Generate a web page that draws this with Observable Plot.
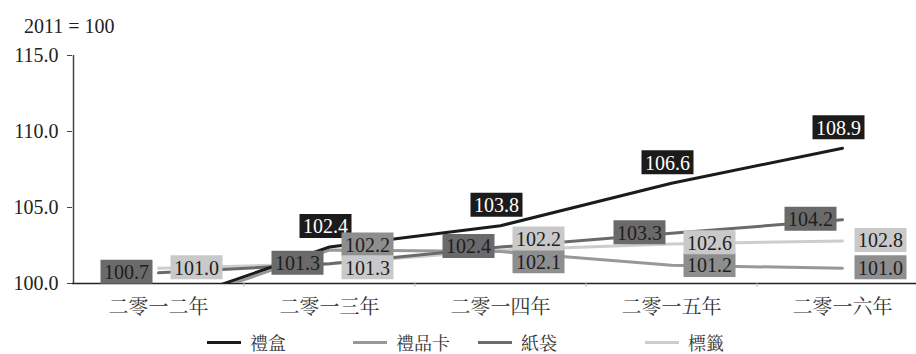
<!DOCTYPE html>
<html><head><meta charset="utf-8">
<script src="https://cdn.jsdelivr.net/npm/d3@7"></script>
<script src="https://cdn.jsdelivr.net/npm/@observablehq/plot@0.6"></script>
<style>
body{margin:0;background:#fff;width:916px;height:354px;overflow:hidden;}
#title{height:38px;box-sizing:border-box;padding-top:15px;padding-left:24px;font-family:'Liberation Serif',serif;font-size:20px;line-height:22px;color:#222;}
#chart svg{display:block;}
#legend{position:relative;height:24px;font-family:'Noto Serif CJK TC',serif;font-size:18px;color:#333;}
#legend .item{position:absolute;top:0;height:24px;display:flex;align-items:center;white-space:nowrap;}
#legend .item:nth-child(1){left:207px;}
#legend .item:nth-child(2){left:353px;}
#legend .item:nth-child(3){left:478px;}
#legend .item:nth-child(4){left:645px;}
#legend .sw{display:inline-block;width:34px;height:3px;margin-right:9px;}
</style></head><body>
<div id="title">2011 = 100</div>
<div id="chart"></div>
<div id="legend"></div>
<script>
const years = ["二零一二年","二零一三年","二零一四年","二零一五年","二零一六年"];
const seriesNames = ["禮盒","禮品卡","紙袋","標籤"];
const giftBox = [98.5, 102.4, 103.8, 106.6, 108.9];
const giftCard = [98.3, 102.2, 102.1, 101.2, 101.0];
const paperBag = [100.7, 101.3, 102.4, 103.3, 104.2];
const tagValues = [101.0, 101.3, 102.2, 102.6, 102.8];
const yTicks = [100, 105, 110, 115];

const valuesBySeries = {"禮盒": giftBox, "禮品卡": giftCard, "紙袋": paperBag, "標籤": tagValues};
const lineColor = {"禮盒": "#1b1b1b", "禮品卡": "#989898", "紙袋": "#6a6a6a", "標籤": "#cdcdcd"};
const boxColor = {"禮盒": "#1b1b1b", "禮品卡": "#8e8e8e", "紙袋": "#6a6a6a", "標籤": "#c9c9c9"};
const textColor = {"禮盒": "#ffffff", "禮品卡": "#1e1e1e", "紙袋": "#1e1e1e", "標籤": "#1e1e1e"};
const labelOffset = {"禮盒": {dx: -4, dy: -21}, "紙袋": {dx: -32, dy: -1}, "禮品卡": {dx: 38, dy: -1}, "標籤": {dx: 38, dy: -1}};

const rows = seriesNames.flatMap(s => years.map((yr, i) => ({series: s, year: yr, value: valuesBySeries[s][i]})));

// labels: only values inside the axis range; dodge the two right-hand series apart
const gap = 1.5;
const labelRows = rows.filter(d => d.value >= 100).map(d => ({...d, ly: d.value}));
years.forEach(yr => {
  const a = labelRows.find(d => d.year === yr && d.series === "禮品卡");
  const b = labelRows.find(d => d.year === yr && d.series === "標籤");
  if (a && b && Math.abs(a.value - b.value) < gap) {
    const mid = (a.value + b.value) / 2;
    const [hi, lo] = a.value > b.value ? [a, b] : [b, a];
    hi.ly = mid + gap / 2; lo.ly = mid - gap / 2;
  }
});

const box = {draw(ctx) { ctx.rect(-26, -12, 52, 24); }};
const serif = "'Liberation Serif', serif";
const cjkSerif = "'Noto Serif CJK TC', serif";

const marks = [
  Plot.ruleY([100], {stroke: "#222", strokeWidth: 1.5}),
  Plot.ruleX([years[0]], {x: d => d, y1: 100, y2: 115, dx: -85, stroke: "#444", strokeWidth: 1.5}),
  Plot.ruleX(years.slice(1), {x: d => d, y1: 100, y2: 99.75, dx: -85.6, stroke: "#bbb"}),
  Plot.axisY({ticks: yTicks, tickFormat: d => d.toFixed(1), tickSize: 5, tickPadding: 9, stroke: "#444", fill: "#222", fontSize: 20, fontFamily: serif, label: null}),
  Plot.axisX({tickSize: 0, tickPadding: 16, fill: "#333", fontSize: 20, fontFamily: cjkSerif, label: null})
];
for (const s of ["標籤", "禮品卡", "紙袋", "禮盒"]) {
  marks.push(Plot.line(rows.filter(d => d.series === s), {x: "year", y: "value", stroke: lineColor[s], strokeWidth: 3, clip: true}));
}
for (const s of ["禮盒", "紙袋", "禮品卡", "標籤"]) {
  const data = labelRows.filter(d => d.series === s);
  const o = labelOffset[s];
  marks.push(Plot.dot(data, {x: "year", y: "ly", symbol: box, fill: boxColor[s], stroke: "none", dx: o.dx, dy: o.dy}));
  marks.push(Plot.text(data, {x: "year", y: "ly", text: d => d.value.toFixed(1), fill: textColor[s], fontSize: 20, fontFamily: serif, dx: o.dx, dy: o.dy + 1}));
}

const chart = Plot.plot({
  width: 916, height: 292,
  marginLeft: 72, marginRight: 0, marginTop: 17, marginBottom: 47,
  x: {type: "point", domain: years, range: [157, 842], padding: 0, label: null},
  y: {domain: [100, 115], label: null},
  style: {background: "#fff", fontFamily: serif, fontSize: "20px", color: "#222"},
  marks
});
document.getElementById("chart").appendChild(chart);

const legend = document.getElementById("legend");
for (const s of seriesNames) {
  const item = document.createElement("div");
  item.className = "item";
  const sw = document.createElement("span");
  sw.className = "sw";
  sw.style.background = lineColor[s];
  const t = document.createElement("span");
  t.textContent = s;
  item.appendChild(sw); item.appendChild(t);
  legend.appendChild(item);
}
</script>
</body></html>
